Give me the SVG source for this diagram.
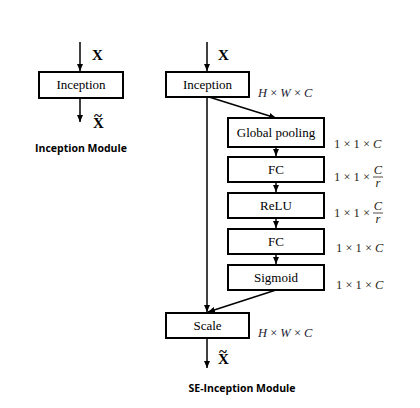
<svg xmlns="http://www.w3.org/2000/svg" width="420" height="408" viewBox="0 0 420 408">
<style>
.box{fill:#fff;stroke:#000;stroke-width:2}
.lbl{font-family:"Liberation Serif",serif;font-size:13px;fill:#000;text-anchor:middle}
.x{font-family:"Liberation Serif",serif;font-size:15px;font-weight:bold;fill:#000}
.title{font-family:"Open Sans","Liberation Sans",sans-serif;font-size:10.5px;font-weight:bold;fill:#000;text-anchor:middle}
.dim{font-family:"Liberation Serif",serif;font-size:12.5px;fill:#2a1f14}
.hw{font-family:"Liberation Serif",serif;font-size:12.5px;fill:#1a1a33}
.it{font-style:italic}
.conn line{stroke:#000;stroke-width:1.5}
</style>
<defs>
<marker id="ah" markerUnits="userSpaceOnUse" markerWidth="8" markerHeight="8" viewBox="0 0 8 8" refX="7" refY="4" orient="auto">
<path d="M0,1 L7,4 L0,7 Z" fill="#000"/>
</marker>
</defs>
<rect width="420" height="408" fill="#fff"/>
<g class="conn">
<line x1="80" y1="42" x2="80" y2="71" marker-end="url(#ah)"/>
<line x1="80" y1="98" x2="80" y2="122" marker-end="url(#ah)"/>
<line x1="207" y1="42" x2="207" y2="71" marker-end="url(#ah)"/>
<line x1="209" y1="97" x2="276" y2="118" marker-end="url(#ah)"/>
<line x1="276" y1="147" x2="276" y2="156" marker-end="url(#ah)"/>
<line x1="276" y1="182" x2="276" y2="192" marker-end="url(#ah)"/>
<line x1="276" y1="218" x2="276" y2="228" marker-end="url(#ah)"/>
<line x1="276" y1="254" x2="276" y2="264" marker-end="url(#ah)"/>
<line x1="207" y1="97" x2="207" y2="312" marker-end="url(#ah)"/>
<line x1="276" y1="290" x2="208" y2="312" marker-end="url(#ah)"/>
<line x1="207" y1="338" x2="207" y2="368" marker-end="url(#ah)"/>
</g>
<g id="inception-left"><rect class="box" x="39" y="72" width="84" height="26"/><text class="lbl" x="81" y="89">Inception</text></g>
<g id="inception-right"><rect class="box" x="166" y="72" width="83" height="25"/><text class="lbl" x="207.5" y="89">Inception</text></g>
<g id="global-pooling"><rect class="box" x="228" y="118" width="96" height="29"/><text class="lbl" x="276" y="137">Global pooling</text></g>
<g id="fc1"><rect class="box" x="228" y="157" width="96" height="25"/><text class="lbl" x="276" y="174">FC</text></g>
<g id="relu"><rect class="box" x="228" y="193" width="96" height="25"/><text class="lbl" x="276" y="210">ReLU</text></g>
<g id="fc2"><rect class="box" x="228" y="229" width="96" height="25"/><text class="lbl" x="276" y="246">FC</text></g>
<g id="sigmoid"><rect class="box" x="228" y="265" width="96" height="25"/><text class="lbl" x="276" y="282">Sigmoid</text></g>
<g id="scale"><rect class="box" x="166" y="313" width="83" height="25"/><text class="lbl" x="207.5" y="330">Scale</text></g>
<text class="x" x="92" y="60">X</text>
<text class="x" x="93" y="128">X<tspan x="94" y="120.5">~</tspan></text>
<text class="x" x="218" y="60">X</text>
<text class="x" x="218" y="364">X<tspan x="219" y="356.5">~</tspan></text>
<text class="title" x="81" y="152">Inception Module</text>
<text class="title" x="242" y="392">SE-Inception Module</text>
<text class="hw" x="258" y="97"><tspan class="it">H</tspan> × <tspan class="it">W</tspan> × <tspan class="it">C</tspan></text>
<text class="hw" x="258" y="337"><tspan class="it">H</tspan> × <tspan class="it">W</tspan> × <tspan class="it">C</tspan></text>
<text class="dim" x="334" y="148">1 × 1 × <tspan class="it">C</tspan></text>
<text class="dim" x="334" y="181">1 × 1 ×</text>
<text class="dim it" x="378" y="174" text-anchor="middle">C</text>
<line x1="373" y1="177" x2="383" y2="177" stroke="#2a1f14" stroke-width="0.8"/>
<text class="dim it" x="378" y="187" text-anchor="middle">r</text>
<text class="dim" x="334" y="217">1 × 1 ×</text>
<text class="dim it" x="378" y="210" text-anchor="middle">C</text>
<line x1="373" y1="213" x2="383" y2="213" stroke="#2a1f14" stroke-width="0.8"/>
<text class="dim it" x="378" y="223" text-anchor="middle">r</text>
<text class="dim" x="336" y="252">1 × 1 × <tspan class="it">C</tspan></text>
<text class="dim" x="336" y="289">1 × 1 × <tspan class="it">C</tspan></text>
</svg>
